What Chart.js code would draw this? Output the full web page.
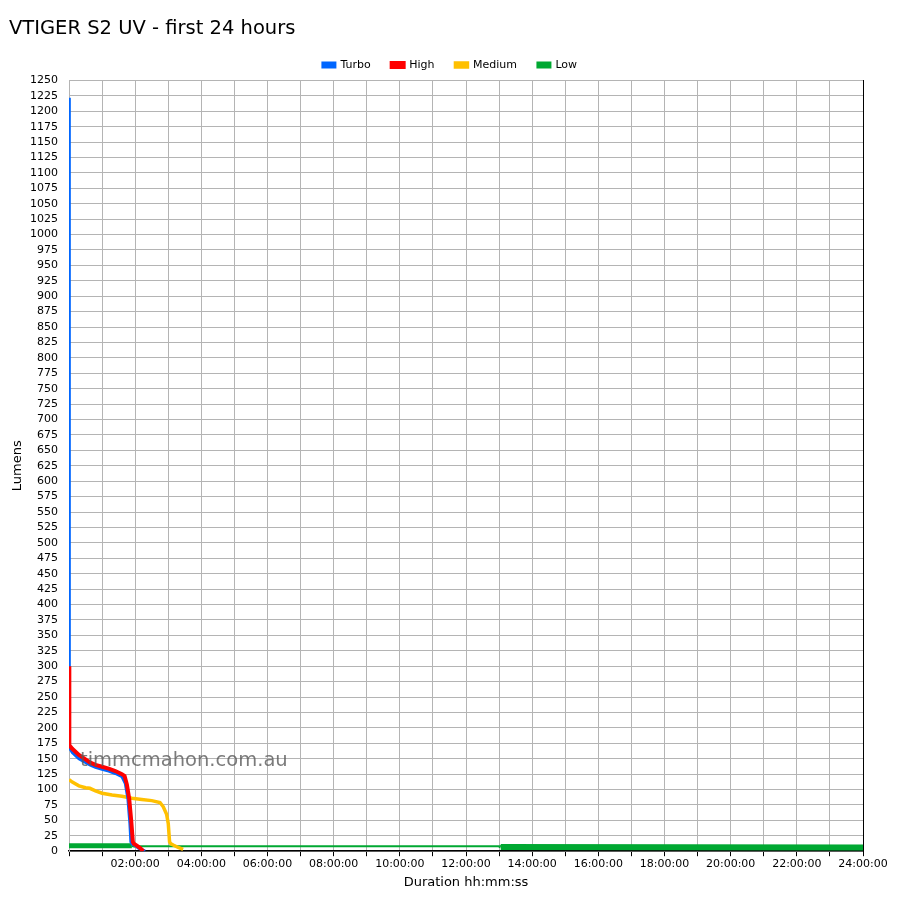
<!DOCTYPE html>
<html>
<head>
<meta charset="utf-8">
<script src="https://cdn.jsdelivr.net/npm/chart.js@4"></script>
<style>
  body { margin: 0; background: #fff; }
  #wrap { width: 900px; height: 900px; }
</style>
</head>
<body>
<div id="wrap"><canvas id="lumenChart" width="900" height="900"></canvas></div>
<script>
// runtime in hours, output in lumens
let turboHours = [0, 0.01, 0.1, 0.3, 0.5, 0.63, 0.8, 1.0, 1.2, 1.4, 1.6, 1.7, 1.78, 1.84, 1.87, 1.9, 2.0, 2.1, 2.3];
let turboLumens = [1222, 168, 160, 150, 144, 140, 136, 133, 130, 126, 121, 110, 85, 45, 15, 12, 9, 5, 0];

let highHours = [0, 0.01, 0.1, 0.3, 0.5, 0.63, 0.8, 1.0, 1.2, 1.4, 1.6, 1.68, 1.75, 1.82, 1.88, 1.93, 1.96, 2.05, 2.15, 2.25];
let highLumens = [300, 172, 166, 156, 149, 144, 140, 137, 134, 130, 125, 122, 108, 85, 50, 15, 12, 9, 5, 0];

let mediumHours = [0, 0.1, 0.3, 0.5, 0.63, 0.8, 1.0, 1.3, 1.6, 1.9, 2.2, 2.5, 2.75, 2.85, 2.95, 3.0, 3.04, 3.08, 3.15, 3.3, 3.45];
let mediumLumens = [116, 112, 106, 103, 102, 98, 94, 91, 89, 86, 84, 82, 79, 72, 60, 45, 15, 12, 10, 6, 3];

let lowHours = [0, 1.9, 2.0, 7.5, 13.0, 13.05, 24.0];
let lowLumens = [9, 9, 8, 8, 8, 7, 6];
let lowSegmentWidths = [5, 3, 2, 2, 3, 6];

let seriesNames = ["Turbo", "High", "Medium", "Low"];
let seriesColors = ["#0066ff", "#ff0000", "#ffc000", "#00a832"];
let seriesWidths = [3, 4, 3.5, 3];
// higher order is drawn first (underneath)
let seriesOrder = [2, 1, 3, 10];

let xTickHours = [2, 4, 6, 8, 10, 12, 14, 16, 18, 20, 22, 24];

function toPoints(hours, lumens) {
  return hours.map((h, i) => ({ x: h, y: lumens[i] }));
}

function hms(h) {
  return String(h).padStart(2, "0") + ":00:00";
}

let watermark = {
  id: "watermark",
  afterDatasetsDraw(chart) {
    let ctx = chart.ctx;
    let area = chart.chartArea;
    ctx.save();
    ctx.font = "19.5px 'DejaVu Sans'";
    ctx.fillStyle = "rgba(90,90,90,0.8)";
    ctx.textBaseline = "alphabetic";
    ctx.fillText("timmcmahon.com.au", area.left + 11, 766);
    ctx.restore();
  },
};

Chart.defaults.font.family = "'DejaVu Sans', sans-serif";
Chart.defaults.color = "#000";

let datasets = [
  toPoints(turboHours, turboLumens),
  toPoints(highHours, highLumens),
  toPoints(mediumHours, mediumLumens),
  toPoints(lowHours, lowLumens),
].map((pts, i) => ({
  label: seriesNames[i],
  data: pts,
  borderColor: seriesColors[i],
  backgroundColor: seriesColors[i],
  borderWidth: seriesWidths[i],
  order: seriesOrder[i],
  pointRadius: 0,
  tension: 0,
  fill: false,
}));

datasets[3].segment = {
  borderWidth: (c) => lowSegmentWidths[c.p0DataIndex],
};

new Chart(document.getElementById("lumenChart"), {
  type: "line",
  data: { datasets: datasets },
  plugins: [watermark],
  options: {
    responsive: false,
    animation: false,
    layout: { padding: { left: 9, right: 9, top: 6, bottom: 6 } },
    plugins: {
      title: {
        display: true,
        text: "VTIGER S2 UV - first 24 hours",
        align: "start",
        font: { size: 19.5, weight: "normal" },
        color: "#000",
        padding: { top: 11, bottom: -2 },
      },
      legend: {
        labels: {
          boxWidth: 12,
          boxHeight: 4,
          font: { size: 11 },
          padding: 21,
          sort: (a, b) => a.datasetIndex - b.datasetIndex,
        },
      },
      tooltip: { enabled: false },
    },
    scales: {
      x: {
        type: "linear",
        min: 0,
        max: 24,
        afterBuildTicks: (axis) => {
          axis.ticks = [];
          for (let i = 0; i <= 24; i++) axis.ticks.push({ value: i });
        },
        ticks: {
          autoSkip: false,
          maxRotation: 0,
          padding: 1,
          font: { size: 11 },
          callback: (v) => (xTickHours.includes(v) ? hms(v) : ""),
        },
        grid: { color: "#b4b4b4", tickColor: "#000", tickLength: 5 },
        border: { color: "#000", width: 1.5 },
        title: { display: true, text: "Duration hh:mm:ss", font: { size: 13 }, padding: { top: 3, bottom: 4 } },
      },
      y: {
        min: 0,
        max: 1250,
        afterFit: (axis) => { axis.width = 60; },
        ticks: {
          stepSize: 25,
          autoSkip: false,
          font: { size: 11 },
          padding: 11,
          callback: (v) => String(v),
        },
        grid: { color: "#b4b4b4", drawTicks: false },
        border: { color: "#b4b4b4" },
        title: { display: true, text: "Lumens", font: { size: 13 }, padding: { top: 1, bottom: 4 } },
      },
      y2: {
        position: "right",
        min: 0,
        max: 1250,
        afterFit: (axis) => { axis.width = 28; },
        ticks: { display: false },
        grid: { drawOnChartArea: false, drawTicks: false },
        border: { color: "#000", width: 1 },
      },
    },
  },
});
</script>
</body>
</html>
